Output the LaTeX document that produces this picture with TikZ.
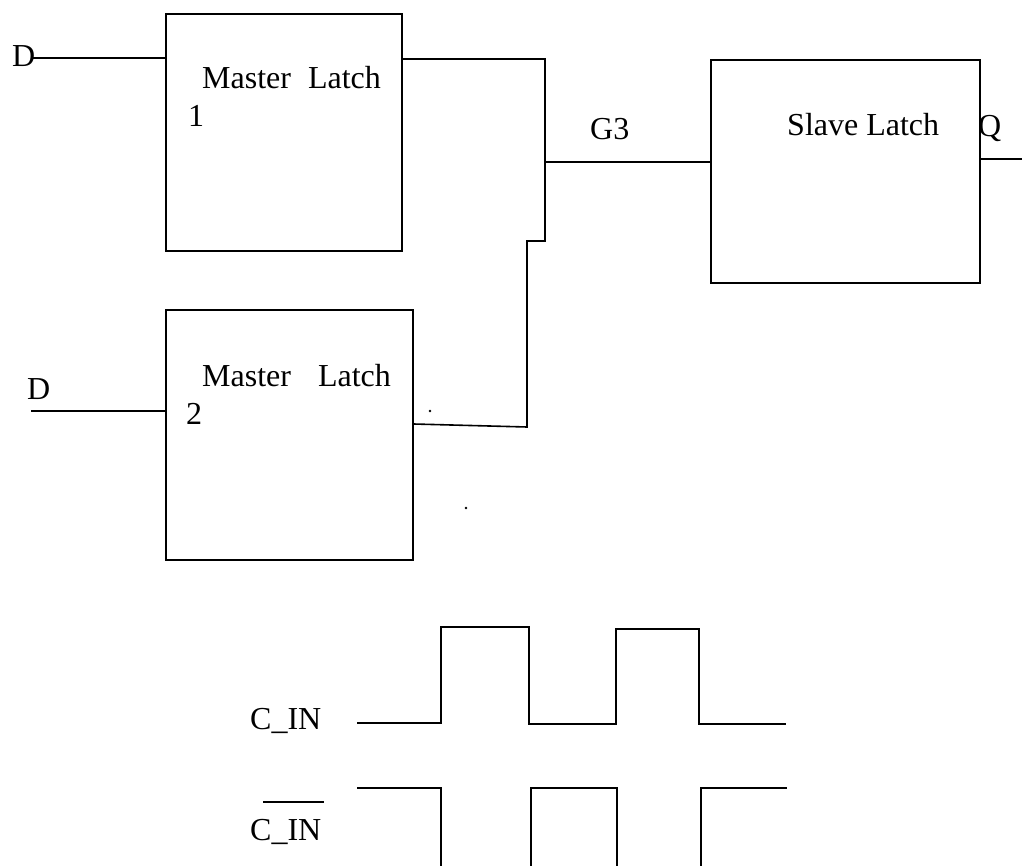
\documentclass[tikz,border=0pt]{standalone}
\usepackage{fontspec}
\setmainfont{Liberation Serif}
\begin{document}
\begin{tikzpicture}[x=1pt,y=-1pt,
  wire/.style={line width=1.6pt, line cap=butt},
  blockbox/.style={draw, line width=1.6pt, anchor=north west, inner sep=0pt},
  lbl/.style={anchor=base west, inner sep=0pt, font=\fontsize{32}{38}\selectfont}]
\useasboundingbox (0,0) rectangle (1022,866);
% boxes
\node[blockbox, minimum width=236pt, minimum height=237pt] (m1) at (165,13) {};
\node[blockbox, minimum width=247pt, minimum height=250pt] (m2) at (165,309) {};
\node[blockbox, minimum width=269pt, minimum height=223pt] (sl) at (710,59) {};
% labels
\node[lbl] (d1) at (12,67) {D};
\node[lbl] (t1) at (202,89) {Master\hspace{17pt}Latch};
\node[lbl] (n1) at (188,127) {1};
\node[lbl] (d2) at (27,399) {D};
\node[lbl] (t2) at (202,386) {Master\hspace{27pt}Latch};
\node[lbl] (n2) at (186,424) {2};
\node[lbl] (g3) at (590,140) {G3};
\node[lbl] (ts) at (787,136) {Slave Latch};
\node[lbl] (q) at (978,137) {Q};
\node[lbl] (c1) at (250,729) {C\_IN};
\node[lbl] (c2) at (250,840) {C\_IN};
\draw[line width=1.6pt] (263,802) -- (324,802);
% coordinates
\coordinate (in1) at (33,58);
\coordinate (in2) at (31,411);
\coordinate (o1) at (401,59);
\coordinate (o2) at (412,424);
\coordinate (j) at (545,162);
\coordinate (qo) at (1022,159);
% wires
\draw[wire] (in1) -- (in1 -| m1.west);
\draw[wire] (in2) -- (in2 -| m2.west);
\draw[wire] (m1.east |- o1) -- (545,59) -- (545,241) -- (527,241) -- (527,427) -- (m2.east |- o2);
\draw[wire] (j) -- (j -| sl.west);
\draw[wire] (sl.east |- qo) -- (qo);
% stray dots
\fill (430,411) circle (1.3pt);
\fill (466,508) circle (1.3pt);
% clock waves
\draw[wire] (357,723) -- (441,723) -- (441,627) -- (529,627) -- (529,724) -- (616,724) -- (616,629) -- (699,629) -- (699,724) -- (786,724);
\draw[wire] (357,788) -- (441,788) -- (441,866);
\draw[wire] (531,866) -- (531,788) -- (617,788) -- (617,866);
\draw[wire] (701,866) -- (701,788) -- (787,788);
\end{tikzpicture}
\end{document}
